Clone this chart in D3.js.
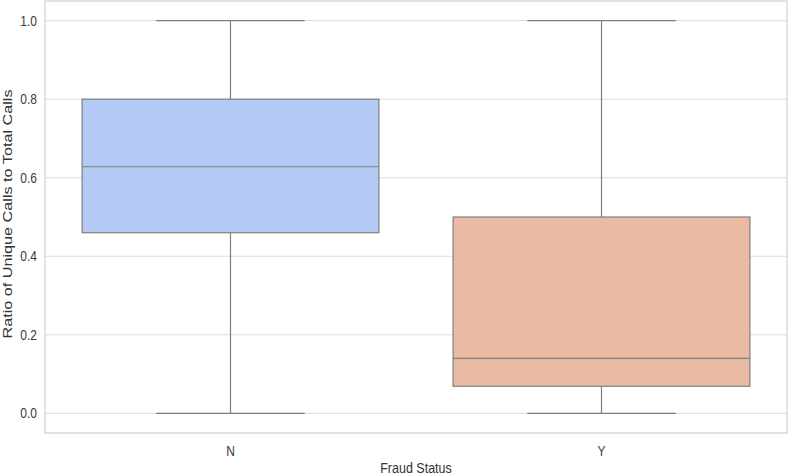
<!DOCTYPE html>
<html>
<head>
<meta charset="utf-8">
<script src="https://cdn.jsdelivr.net/npm/d3@7"></script>
<style>
  html, body { margin: 0; padding: 0; background: #fff; }
  text { font-family: "Liberation Sans", Arial, sans-serif; }
</style>
</head>
<body>
<svg id="chart" width="788" height="476"></svg>
<script>
// box stats
const categories = ['N', 'Y'];
const whiskerLow = [0.0, 0.0];
const q1 = [0.46, 0.069];
const median = [0.628, 0.14];
const q3 = [0.80, 0.50];
const whiskerHigh = [1.0, 1.0];
const yTicks = [0.0, 0.2, 0.4, 0.6, 0.8, 1.0];
const boxColors = ['#b4c9f3', '#eabba3'];

const W = 788, H = 476;
const m = { top: 1, right: 1, bottom: 43, left: 45 };
// the source picture is a little stretched vertically, text included
const stretch = 1.2;

const svg = d3.select('#chart');

const x = d3.scaleBand().domain(categories).range([m.left, W - m.right]).padding(0);
const y = d3.scaleLinear().domain([-0.05, 1.05]).range([H - m.bottom, m.top]);

// gridlines
svg.append('g')
  .selectAll('line')
  .data(yTicks)
  .join('line')
  .attr('x1', m.left).attr('x2', W - m.right)
  .attr('y1', d => y(d)).attr('y2', d => y(d))
  .attr('stroke', '#dcdcdc').attr('stroke-width', 1);

// frame
svg.append('rect')
  .attr('x', m.left).attr('y', m.top)
  .attr('width', W - m.right - m.left).attr('height', H - m.bottom - m.top)
  .attr('fill', 'none').attr('stroke', '#d0d0d0').attr('stroke-width', 1.2);

// y axis
const yAxis = svg.append('g')
  .attr('transform', `translate(${m.left},0)`)
  .call(d3.axisLeft(y).tickValues(yTicks).tickFormat(d3.format('.1f')).tickSize(0).tickPadding(8));
yAxis.select('.domain').remove();
yAxis.selectAll('text').attr('font-size', 12).attr('fill', '#3a3a3a')
  .attr('transform', `scale(1,${stretch})`)
  .style('font-family', '"Liberation Sans", Arial, sans-serif');

// x axis
const xAxis = svg.append('g')
  .attr('transform', `translate(0,${H - m.bottom})`)
  .call(d3.axisBottom(x).tickSize(0).tickPadding(11));
xAxis.select('.domain').remove();
xAxis.selectAll('text').attr('font-size', 12).attr('fill', '#3a3a3a')
  .attr('transform', `scale(1,${stretch})`)
  .style('font-family', '"Liberation Sans", Arial, sans-serif');

// axis labels
svg.append('text')
  .attr('transform', `translate(${(m.left + W - m.right) / 2},473) scale(1,${stretch})`)
  .attr('text-anchor', 'middle').attr('font-size', 12.5).attr('fill', '#333')
  .text('Fraud Status');
svg.append('text')
  .attr('transform', `translate(12,214) rotate(-90) scale(1.2,1)`)
  .attr('text-anchor', 'middle').attr('font-size', 13.5).attr('fill', '#333')
  .text('Ratio of Unique Calls to Total Calls');

// boxes
const boxW = x.bandwidth() * 0.8;
const capW = boxW / 2;
const lineColor = '#7f7f7f';

const boxes = svg.append('g').selectAll('g')
  .data(categories)
  .join('g')
  .attr('transform', d => `translate(${x(d) + x.bandwidth() / 2},0)`);

boxes.each(function(d, i) {
  const g = d3.select(this);
  g.append('line')
    .attr('x1', 0).attr('x2', 0)
    .attr('y1', y(whiskerHigh[i])).attr('y2', y(q3[i]))
    .attr('stroke', lineColor).attr('stroke-width', 1.2);
  g.append('line')
    .attr('x1', 0).attr('x2', 0)
    .attr('y1', y(q1[i])).attr('y2', y(whiskerLow[i]))
    .attr('stroke', lineColor).attr('stroke-width', 1.2);
  [whiskerHigh[i], whiskerLow[i]].forEach(v => {
    g.append('line')
      .attr('x1', -capW / 2).attr('x2', capW / 2)
      .attr('y1', y(v)).attr('y2', y(v))
      .attr('stroke', lineColor).attr('stroke-width', 1.2);
  });
  g.append('rect')
    .attr('x', -boxW / 2).attr('width', boxW)
    .attr('y', y(q3[i])).attr('height', y(q1[i]) - y(q3[i]))
    .attr('fill', boxColors[i]).attr('stroke', lineColor).attr('stroke-width', 1.2);
  g.append('line')
    .attr('x1', -boxW / 2).attr('x2', boxW / 2)
    .attr('y1', y(median[i])).attr('y2', y(median[i]))
    .attr('stroke', lineColor).attr('stroke-width', 1.2);
});
</script>
</body>
</html>
